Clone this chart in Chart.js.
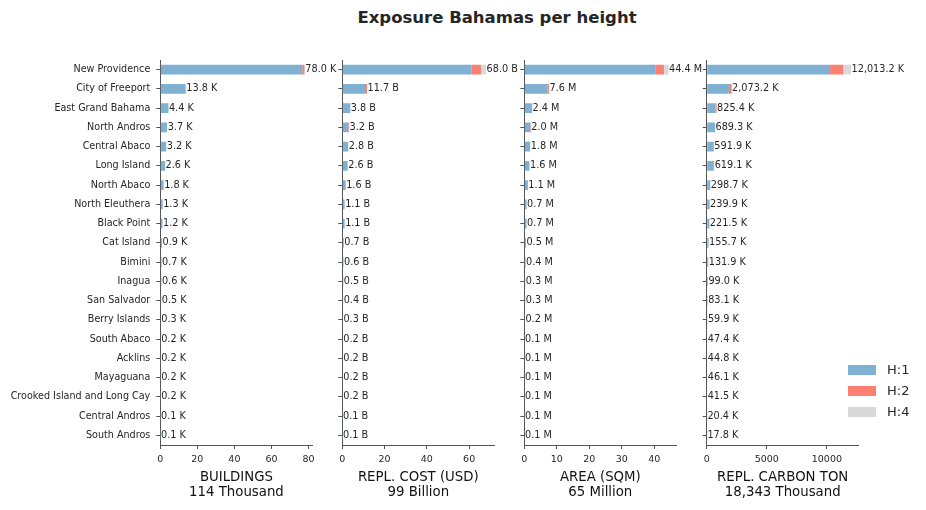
<!DOCTYPE html>
<html>
<head>
<meta charset="utf-8">
<script src="https://cdn.jsdelivr.net/npm/chart.js@4.4.1/dist/chart.umd.min.js"></script>
<style>
  html, body { margin:0; padding:0; background:#fff; }
  body { width:926px; height:510px; position:relative; overflow:hidden; font-family:'DejaVu Sans', sans-serif; }
  canvas { position:absolute; top:0; }
  #title { position:absolute; left:297px; width:400px; top:8px; line-height:20px; text-align:center; font-weight:bold; font-size:16.5px; color:#262626; }
  .leg { position:absolute; left:848px; height:20px; }
  .leg .sw { position:absolute; left:0; top:5px; width:28px; height:10px; }
  .leg .tx { position:absolute; left:39px; top:0; line-height:20px; font-size:13px; color:#262626; white-space:nowrap; }
</style>
</head>
<body>
<div id="title">Exposure Bahamas per height</div>
<canvas id="c0" width="345" height="510" style="left:0px"></canvas>
<canvas id="c1" width="190" height="510" style="left:330px"></canvas>
<canvas id="c2" width="195" height="510" style="left:512px"></canvas>
<canvas id="c3" width="232" height="510" style="left:694px"></canvas>
<div class="leg" style="top:360px"><div class="sw" style="background:#80b1d3"></div><div class="tx">H:1</div></div>
<div class="leg" style="top:381px"><div class="sw" style="background:#fb8072"></div><div class="tx">H:2</div></div>
<div class="leg" style="top:402px"><div class="sw" style="background:#d9d9d9"></div><div class="tx">H:4</div></div>
<script>
const categories = ['New Providence','City of Freeport','East Grand Bahama','North Andros','Central Abaco','Long Island','North Abaco','North Eleuthera','Black Point','Cat Island','Bimini','Inagua','San Salvador','Berry Islands','South Abaco','Acklins','Mayaguana','Crooked Island and Long Cay','Central Andros','South Andros'];
const seriesNames = ['H:1','H:2','H:4'];
const seriesColors = ['#80b1d3','#fb8072','#d9d9d9'];

// BUILDINGS (thousands)
const bldTotal = [78.0,13.8,4.4,3.7,3.2,2.6,1.8,1.3,1.2,0.9,0.7,0.6,0.5,0.3,0.2,0.2,0.2,0.2,0.1,0.1];
const bldH1 = [76.6,13.5,4.4,3.6,3.2,2.6,1.8,1.3,1.2,0.9,0.7,0.6,0.5,0.3,0.2,0.2,0.2,0.2,0.1,0.1];
const bldH2 = [1.2,0.3,0,0.1,0,0,0,0,0,0,0,0,0,0,0,0,0,0,0,0];
const bldH4 = [0.2,0,0,0,0,0,0,0,0,0,0,0,0,0,0,0,0,0,0,0];
const bldTicks = [0,20,40,60,80];

// REPL. COST (billion USD)
const costTotal = [68.0,11.7,3.8,3.2,2.8,2.6,1.6,1.1,1.1,0.7,0.6,0.5,0.4,0.3,0.2,0.2,0.2,0.2,0.1,0.1];
const costH1 = [61.2,11.2,3.8,2.8,2.8,2.5,1.6,1.1,1.1,0.7,0.6,0.5,0.4,0.3,0.2,0.2,0.2,0.2,0.1,0.1];
const costH2 = [4.4,0.5,0,0.4,0,0.1,0,0,0,0,0,0,0,0,0,0,0,0,0,0];
const costH4 = [2.4,0,0,0,0,0,0,0,0,0,0,0,0,0,0,0,0,0,0,0];
const costTicks = [0,20,40,60];

// AREA (million sqm)
const areaTotal = [44.4,7.6,2.4,2.0,1.8,1.6,1.1,0.7,0.7,0.5,0.4,0.3,0.3,0.2,0.1,0.1,0.1,0.1,0.1,0.1];
const areaH1 = [40.5,7.2,2.4,1.8,1.8,1.5,1.1,0.7,0.7,0.5,0.4,0.3,0.3,0.2,0.1,0.1,0.1,0.1,0.1,0.1];
const areaH2 = [2.5,0.4,0,0.2,0,0.1,0,0,0,0,0,0,0,0,0,0,0,0,0,0];
const areaH4 = [1.4,0,0,0,0,0,0,0,0,0,0,0,0,0,0,0,0,0,0,0];
const areaTicks = [0,10,20,30,40];

// REPL. CARBON TON (thousands)
const carbTotal = [12013.2,2073.2,825.4,689.3,591.9,619.1,298.7,239.9,221.5,155.7,131.9,99.0,83.1,59.9,47.4,44.8,46.1,41.5,20.4,17.8];
const carbH1 = [10265,1850,740,689.3,591.9,540,298.7,239.9,221.5,155.7,131.9,99.0,83.1,59.9,47.4,44.8,46.1,41.5,20.4,17.8];
const carbH2 = [1105,223.2,85.4,0,0,79.1,0,0,0,0,0,0,0,0,0,0,0,0,0,0];
const carbH4 = [643.2,0,0,0,0,0,0,0,0,0,0,0,0,0,0,0,0,0,0,0];
const carbTicks = [0,5000,10000];

const axisTitles = [['BUILDINGS','114 Thousand'],['REPL. COST (USD)','99 Billion'],['AREA (SQM)','65 Million'],['REPL. CARBON TON','18,343 Thousand']];
const units = ['K','B','M','K'];

Chart.defaults.font.family = "'DejaVu Sans', sans-serif";
Chart.defaults.color = '#262626';

const fmt = (v) => v.toLocaleString('en-US', {minimumFractionDigits:1, maximumFractionDigits:1});

const panels = [
  {id:'c0', h:[bldH1,bldH2,bldH4], total:bldTotal, ticks:bldTicks, max:82.2, yW:160.3, padR:32.4, showY:true},
  {id:'c1', h:[costH1,costH2,costH4], total:costTotal, ticks:costTicks, max:71.9, yW:12.3, padR:25.7, showY:false},
  {id:'c2', h:[areaH1,areaH2,areaH4], total:areaTotal, ticks:areaTicks, max:46.8, yW:12.3, padR:30.7, showY:false},
  {id:'c3', h:[carbH1,carbH2,carbH4], total:carbTotal, ticks:carbTicks, max:12650, yW:12.7, padR:67.3, showY:false}
];

panels.forEach((p, pi) => {
  const valueLabels = {
    id:'valueLabels',
    afterDatasetsDraw(chart) {
      const ctx = chart.ctx;
      const xs = chart.scales.x, ys = chart.scales.y;
      ctx.save();
      ctx.font = "9.7px 'DejaVu Sans'";
      ctx.fillStyle = '#262626';
      ctx.textAlign = 'left';
      ctx.textBaseline = 'middle';
      p.total.forEach((v, i) => {
        ctx.fillText(fmt(v) + ' ' + units[pi], xs.getPixelForValue(v) + 0.5, ys.getPixelForValue(i));
      });
      ctx.restore();
    }
  };
  new Chart(document.getElementById(p.id), {
    type:'bar',
    data:{
      labels:categories,
      datasets: seriesNames.map((n, k) => ({label:n, data:p.h[k], backgroundColor:seriesColors[k], borderWidth:0}))
    },
    options:{
      indexAxis:'y',
      responsive:false,
      animation:false,
      layout:{padding:{top:60, left:0, right:p.padR, bottom:0}},
      datasets:{bar:{barPercentage:0.5, categoryPercentage:1.0}},
      plugins:{legend:{display:false}, tooltip:{enabled:false}},
      scales:{
        x:{
          stacked:true, min:0, max:p.max,
          afterBuildTicks:(s) => { s.ticks = p.ticks.map(v => ({value:v})); },
          afterFit:(s) => { s.height = 65; },
          grid:{drawOnChartArea:false, tickLength:4, tickColor:'#555', offset:false},
          border:{color:'#555', width:1},
          ticks:{font:{size:9.5}, padding:5, maxRotation:0, autoSkip:false, color:'#262626',
                 callback:(v) => String(v)},
          title:{display:true, text:axisTitles[pi], font:{size:13.3, lineHeight:1.13}, padding:{top:0, bottom:10}, color:'#111'}
        },
        y:{
          stacked:true,
          afterFit:(s) => { s.width = p.yW; },
          grid:{drawOnChartArea:false, tickLength:4, tickColor:'#555', offset:false},
          border:{color:'#555', width:1},
          ticks:{font:{size:9.6}, padding:6, autoSkip:false, color:'#262626',
                 callback:(v, i) => p.showY ? categories[i] : ''}
        }
      }
    },
    plugins:[valueLabels]
  });
});
</script>
</body>
</html>
